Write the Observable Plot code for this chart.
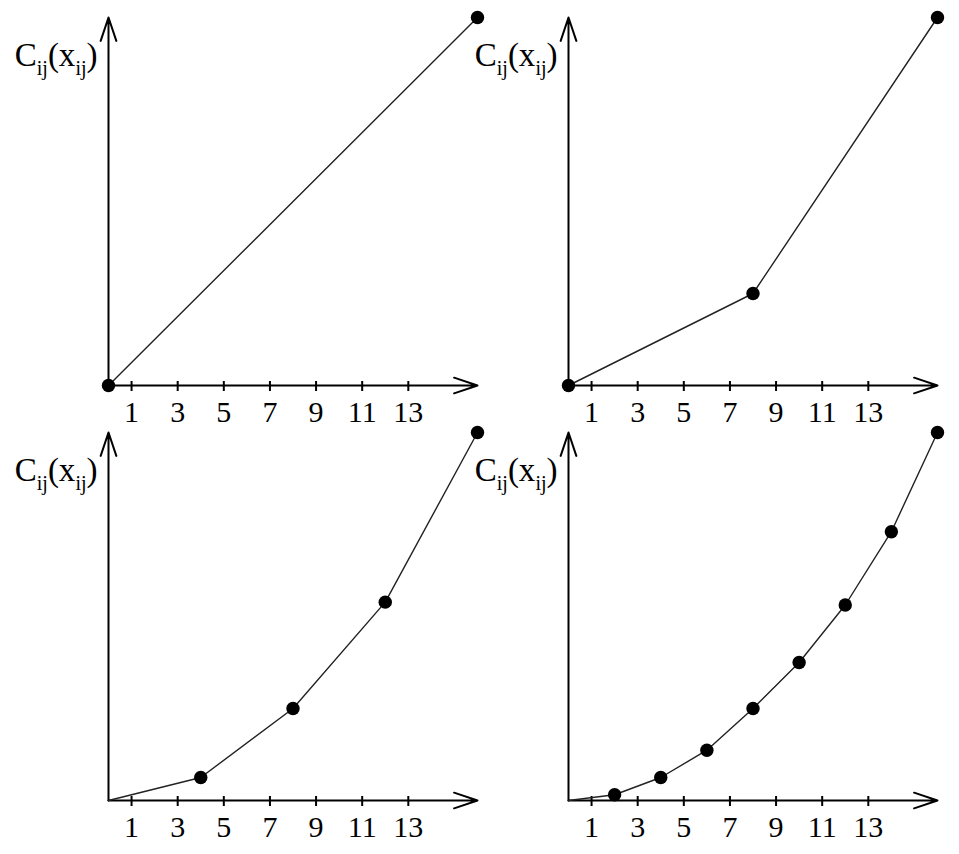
<!DOCTYPE html>
<html>
<head>
<meta charset="utf-8">
<script src="https://cdn.jsdelivr.net/npm/d3@7"></script>
<script src="https://cdn.jsdelivr.net/npm/@observablehq/plot@0.6"></script>
<style>
  html, body { margin: 0; padding: 0; background: #fff; }
  #chart { width: 959px; height: 854px; }
</style>
</head>
<body>
<div id="chart"></div>
<script>
// ---- data ----
const xTicks = [1, 3, 5, 7, 9, 11, 13];
const xMax = 16;
const yMax = 256;
const yLabelParts = [["C", false], ["ij", true], ["(x", false], ["ij", true], [")", false]];

// panel positions (column, row)
const panelCols = [0, 1, 0, 1];
const panelRows = [0, 0, 1, 1];

// panel 1
const p1X = [0, 16];
const p1Y = [0, 256];
const p1Dots = [0, 16];
// panel 2
const p2X = [0, 8, 16];
const p2Y = [0, 64, 256];
const p2Dots = [0, 8, 16];
// panel 3
const p3X = [0, 4, 8, 12, 16];
const p3Y = [0, 16, 64, 138, 256];
const p3Dots = [4, 8, 12, 16];
// panel 4
const p4X = [0, 2, 4, 6, 8, 10, 12, 14, 16];
const p4Y = [0, 4, 16, 35, 64, 96, 136, 187, 256];
const p4Dots = [2, 4, 6, 8, 10, 12, 14, 16];

// ---- build table ----
const series = [[p1X, p1Y, p1Dots], [p2X, p2Y, p2Dots], [p3X, p3Y, p3Dots], [p4X, p4Y, p4Dots]];
const rows = [];
series.forEach(([xs, ys, dots], k) => {
  xs.forEach((x, i) => rows.push({panel: k, col: panelCols[k], row: panelRows[k], x, y: ys[i], dot: dots.includes(x)}));
});
const axesData = [
  {x1: 0, y1: 0, x2: 0, y2: yMax},
  {x1: 0, y1: 0, x2: xMax, y2: 0}
];
const yLabelText = yLabelParts.map(p => p[0]).join("");

const chart = Plot.plot({
  width: 959,
  height: 854,
  marginLeft: 108,
  marginRight: 21,
  marginTop: 17,
  marginBottom: 53,
  style: {fontFamily: "'Liberation Serif', 'Times New Roman', serif", fontSize: "30px", background: "#fff"},
  x: {domain: [0, xMax], axis: null},
  y: {domain: [0, yMax], axis: null},
  fx: {domain: [0, 1], axis: null, paddingInner: 0.197, paddingOuter: 0},
  fy: {domain: [0, 1], axis: null, paddingInner: 0.113, paddingOuter: 0},
  facet: {marginTop: 0, marginBottom: 0, marginLeft: 0, marginRight: 0},
  marks: [
    Plot.arrow(axesData, {x1: "x1", y1: "y1", x2: "x2", y2: "y2", stroke: "#000", strokeWidth: 2, headLength: 18.5, headAngle: 37}),
    Plot.ruleX(xTicks, {x: d => d, y1: 0, y2: 0, insetTop: -4, insetBottom: -6, stroke: "#000", strokeWidth: 2}),
    Plot.text(xTicks, {x: d => d, y: 0, text: d => String(d), dy: 27, fontSize: 30, fill: "#000"}),
    Plot.text([yLabelText], {x: 0, y: yMax, text: d => d, dx: -11, dy: 48, textAnchor: "end", fontSize: 33, fill: "#000"}),
    Plot.line(rows, {x: "x", y: "y", fx: "col", fy: "row", z: "panel", stroke: "#222", strokeWidth: 1.4}),
    Plot.dot(rows.filter(d => d.dot), {x: "x", y: "y", fx: "col", fy: "row", r: 6.7, fill: "#000", stroke: "none"})
  ]
});

// rich y-label with subscripts
d3.select(chart).selectAll("text").filter(function () { return this.textContent === yLabelText; }).each(function () {
  const t = d3.select(this);
  t.text(null).attr("y", 0).attr("dy", null);
  let prevSub = false;
  yLabelParts.forEach(([s, sub]) => {
    const ts = t.append("tspan").text(s).attr("font-size", sub ? 20 : 33);
    if (sub && !prevSub) ts.attr("dy", 9);
    else if (!sub && prevSub) ts.attr("dy", -9);
    prevSub = sub;
  });
});

document.getElementById("chart").appendChild(chart);
</script>
</body>
</html>
